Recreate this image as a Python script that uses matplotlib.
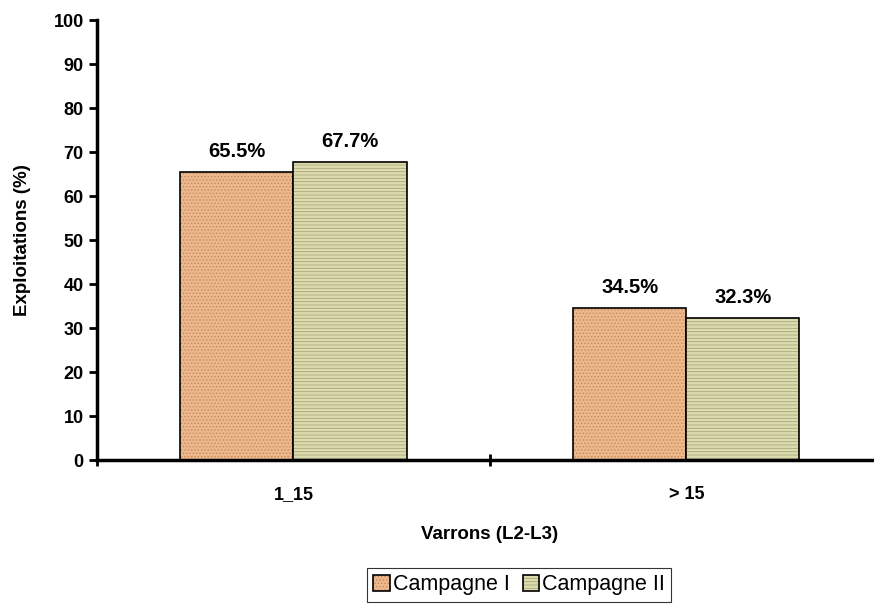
import matplotlib
matplotlib.use("Agg")
import matplotlib.pyplot as plt
import numpy as np

plt.rcParams['font.family'] = ['Liberation Sans', 'DejaVu Sans']
plt.rcParams['hatch.linewidth'] = 0.6

categories = ['1_15', '> 15']
campagne_1 = [65.5, 34.5]
campagne_2 = [67.7, 32.3]
series_names = ['Campagne I', 'Campagne II']

fig = plt.figure(figsize=(8.74, 6.11), dpi=100)
ax = fig.add_axes([0.111, 0.247, 0.899, 0.72])

x = np.arange(len(categories)) + 0.5
w = 0.288

b1 = ax.bar(x - w / 2, campagne_1, w, facecolor='#EDB88C', edgecolor='black',
            linewidth=1.2, hatch='.....', label=series_names[0])
b2 = ax.bar(x + w / 2, campagne_2, w, facecolor='#DCDCB0', edgecolor='black',
            linewidth=1.2, hatch='-----', label=series_names[1])
# hatch colour separate from the black outline
for p in b1:
    p._hatch_color = matplotlib.colors.to_rgba('#C48A5C')
for p in b2:
    p._hatch_color = matplotlib.colors.to_rgba('#A8A878')

for bars, vals in ((b1, campagne_1), (b2, campagne_2)):
    for b, v in zip(bars, vals):
        ax.text(b.get_x() + b.get_width() / 2, v + 2.5, f'{v}%', ha='center',
                va='bottom', fontsize=14.5, fontweight='bold')

ax.set_xlim(0, 2)
ax.set_ylim(0, 100)
ax.set_yticks(np.arange(0, 101, 10))
ax.set_xticks([0, 1, 2])
ax.set_xticklabels(['', '', ''])
ax.set_xticks(x, minor=True)
ax.set_xticklabels(categories, minor=True, fontsize=13, fontweight='bold')
ax.tick_params(axis='x', which='minor', length=0, pad=19)
ax.tick_params(axis='x', which='major', direction='inout', length=8, width=2)
ax.tick_params(axis='y', direction='out', length=6, width=2, labelsize=13)
for lbl in ax.get_yticklabels():
    lbl.set_fontweight('bold')

for s in ('top', 'right'):
    ax.spines[s].set_visible(False)
ax.spines['left'].set_linewidth(2.5)
ax.spines['bottom'].set_linewidth(2.5)

ax.set_ylabel('Exploitations (%)', fontsize=13.5, fontweight='bold', labelpad=16)
ax.set_xlabel('Varrons (L2-L3)', fontsize=13.5, fontweight='bold', labelpad=16)

leg = fig.legend(loc='center', bbox_to_anchor=(0.594, 0.043), ncol=2,
                 fontsize=15.5, frameon=True, fancybox=False, handlelength=0.75,
                 handleheight=0.75, handletextpad=0.15, columnspacing=0.6,
                 borderpad=0.3)
leg.get_frame().set_edgecolor('black')
leg.get_frame().set_linewidth(0.8)

fig.savefig('out.png', dpi=100)
